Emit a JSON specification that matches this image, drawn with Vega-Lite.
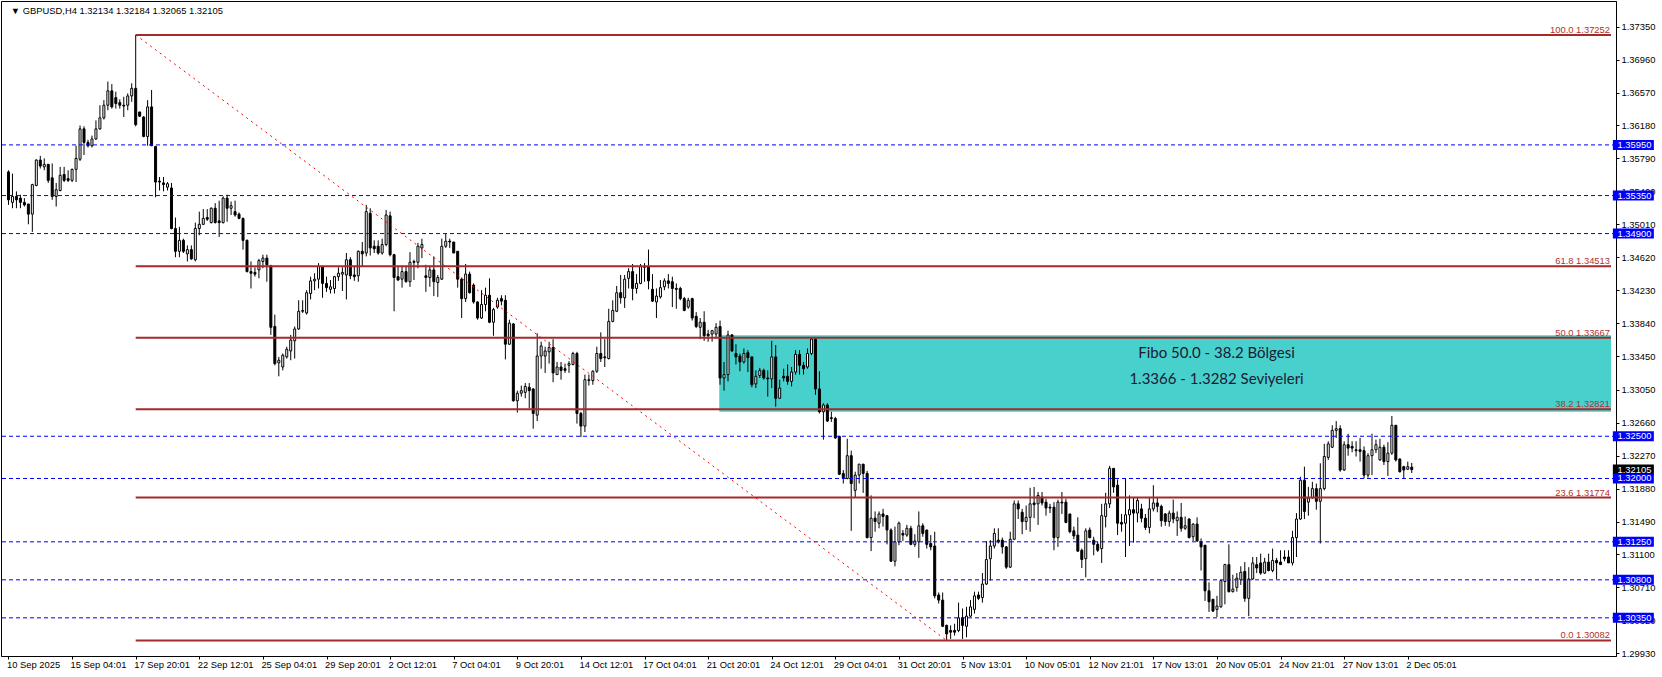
{
"$schema": "https://vega.github.io/schema/vega-lite/v6.json",
"width": 1615, "height": 655,
"autosize": "none",
"padding": {"left": 1, "top": 1, "right": 46, "bottom": 21},
"background": "#ffffff",
"config": {"view": {"stroke": "#000000", "strokeWidth": 1}, "axis": {"labelOverlap": false, "labelFlush": false, "labelBound": false, "grid": false, "title": null}},
"datasets": {
"candles": [
{"i":0,"o":1.3563,"h":1.3565,"l":1.3524,"c":1.3530},{"i":1,"o":1.3527,"h":1.3561,"l":1.3520,"c":1.3534},{"i":2,"o":1.3534,"h":1.3540,"l":1.3520,"c":1.3530},{"i":3,"o":1.3532,"h":1.3536,"l":1.3520,"c":1.3527},{"i":4,"o":1.3527,"h":1.3532,"l":1.3522,"c":1.3524},{"i":5,"o":1.3525,"h":1.3525,"l":1.3501,"c":1.3513},{"i":6,"o":1.3513,"h":1.3549,"l":1.3492,"c":1.3548},{"i":7,"o":1.3547,"h":1.3578,"l":1.3546,"c":1.3577},{"i":8,"o":1.3577,"h":1.3582,"l":1.3567,"c":1.3570},{"i":9,"o":1.3569,"h":1.3579,"l":1.3565,"c":1.3572},
{"i":10,"o":1.3572,"h":1.3572,"l":1.3550,"c":1.3553},{"i":11,"o":1.3556,"h":1.3573,"l":1.3530,"c":1.3534},{"i":12,"o":1.3534,"h":1.3550,"l":1.3522,"c":1.3542},{"i":13,"o":1.3541,"h":1.3569,"l":1.3540,"c":1.3559},{"i":14,"o":1.3560,"h":1.3569,"l":1.3551,"c":1.3553},{"i":15,"o":1.3555,"h":1.3565,"l":1.3551,"c":1.3553},{"i":16,"o":1.3553,"h":1.3567,"l":1.3551,"c":1.3566},{"i":17,"o":1.3566,"h":1.3594,"l":1.3551,"c":1.3579},{"i":18,"o":1.3578,"h":1.3618,"l":1.3576,"c":1.3614},{"i":19,"o":1.3614,"h":1.3617,"l":1.3583,"c":1.3598},
{"i":20,"o":1.3598,"h":1.3601,"l":1.3592,"c":1.3594},{"i":21,"o":1.3594,"h":1.3606,"l":1.3592,"c":1.3602},{"i":22,"o":1.3602,"h":1.3624,"l":1.3601,"c":1.3614},{"i":23,"o":1.3614,"h":1.3642,"l":1.3613,"c":1.3627},{"i":24,"o":1.3627,"h":1.3648,"l":1.3625,"c":1.3642},{"i":25,"o":1.3642,"h":1.3670,"l":1.3636,"c":1.3659},{"i":26,"o":1.3659,"h":1.3667,"l":1.3638,"c":1.3640},{"i":27,"o":1.3651,"h":1.3658,"l":1.3638,"c":1.3644},{"i":28,"o":1.3645,"h":1.3649,"l":1.3638,"c":1.3642},{"i":29,"o":1.3642,"h":1.3652,"l":1.3628,"c":1.3641},
{"i":30,"o":1.3642,"h":1.3656,"l":1.3636,"c":1.3653},{"i":31,"o":1.3653,"h":1.3668,"l":1.3646,"c":1.3662},{"i":32,"o":1.3662,"h":1.37252,"l":1.3617,"c":1.3619},{"i":33,"o":1.3634,"h":1.3634,"l":1.3628,"c":1.3629},{"i":34,"o":1.3628,"h":1.3629,"l":1.3604,"c":1.3605},{"i":35,"o":1.3605,"h":1.3648,"l":1.3594,"c":1.3640},{"i":36,"o":1.3640,"h":1.3660,"l":1.3594,"c":1.3594},{"i":37,"o":1.3593,"h":1.3594,"l":1.3533,"c":1.3551},{"i":38,"o":1.3552,"h":1.3557,"l":1.3541,"c":1.3551},{"i":39,"o":1.3550,"h":1.3557,"l":1.3540,"c":1.3548},
{"i":40,"o":1.3545,"h":1.3551,"l":1.3541,"c":1.3549},{"i":41,"o":1.3544,"h":1.3550,"l":1.3495,"c":1.3496},{"i":42,"o":1.3496,"h":1.3509,"l":1.3462,"c":1.3469},{"i":43,"o":1.3469,"h":1.3498,"l":1.3462,"c":1.3482},{"i":44,"o":1.3482,"h":1.3484,"l":1.3467,"c":1.3469},{"i":45,"o":1.3466,"h":1.3476,"l":1.3457,"c":1.3471},{"i":46,"o":1.3471,"h":1.3476,"l":1.3459,"c":1.3460},{"i":47,"o":1.3459,"h":1.3503,"l":1.3457,"c":1.3496},{"i":48,"o":1.3496,"h":1.3516,"l":1.3488,"c":1.3501},{"i":49,"o":1.3501,"h":1.3519,"l":1.3500,"c":1.3508},
{"i":50,"o":1.3509,"h":1.3519,"l":1.3505,"c":1.3507},{"i":51,"o":1.3503,"h":1.3521,"l":1.3502,"c":1.3520},{"i":52,"o":1.3520,"h":1.3526,"l":1.3502,"c":1.3503},{"i":53,"o":1.3505,"h":1.3529,"l":1.3486,"c":1.3503},{"i":54,"o":1.3503,"h":1.3534,"l":1.3502,"c":1.3532},{"i":55,"o":1.3532,"h":1.3536,"l":1.3504,"c":1.3520},{"i":56,"o":1.3520,"h":1.3528,"l":1.3512,"c":1.3523},{"i":57,"o":1.3516,"h":1.3529,"l":1.3510,"c":1.3512},{"i":58,"o":1.3513,"h":1.3515,"l":1.3507,"c":1.3508},{"i":59,"o":1.3508,"h":1.3509,"l":1.3471,"c":1.3482},
{"i":60,"o":1.3482,"h":1.3483,"l":1.3444,"c":1.3445},{"i":61,"o":1.3445,"h":1.3457,"l":1.3425,"c":1.3443},{"i":62,"o":1.3444,"h":1.3450,"l":1.3439,"c":1.3442},{"i":63,"o":1.3447,"h":1.3460,"l":1.3437,"c":1.3458},{"i":64,"o":1.3457,"h":1.3465,"l":1.3449,"c":1.3461},{"i":65,"o":1.3461,"h":1.3465,"l":1.3433,"c":1.3453},{"i":66,"o":1.3452,"h":1.3453,"l":1.3370,"c":1.3379},{"i":67,"o":1.3380,"h":1.3394,"l":1.3334,"c":1.3336},{"i":68,"o":1.3337,"h":1.3344,"l":1.3321,"c":1.3340},{"i":69,"o":1.3332,"h":1.3348,"l":1.3328,"c":1.3346},
{"i":70,"o":1.3344,"h":1.3356,"l":1.3342,"c":1.3353},{"i":71,"o":1.3351,"h":1.3370,"l":1.3340,"c":1.3364},{"i":72,"o":1.3363,"h":1.3380,"l":1.3342,"c":1.3377},{"i":73,"o":1.3377,"h":1.3411,"l":1.3376,"c":1.3398},{"i":74,"o":1.3398,"h":1.3411,"l":1.3396,"c":1.3399},{"i":75,"o":1.3396,"h":1.3423,"l":1.3394,"c":1.3420},{"i":76,"o":1.3419,"h":1.3439,"l":1.3412,"c":1.3434},{"i":77,"o":1.3434,"h":1.3443,"l":1.3423,"c":1.3436},{"i":78,"o":1.3436,"h":1.3455,"l":1.3425,"c":1.3451},{"i":79,"o":1.3451,"h":1.3452,"l":1.3414,"c":1.3431},
{"i":80,"o":1.3431,"h":1.3439,"l":1.3421,"c":1.3426},{"i":81,"o":1.3424,"h":1.3435,"l":1.3419,"c":1.3427},{"i":82,"o":1.3425,"h":1.3440,"l":1.3419,"c":1.3439},{"i":83,"o":1.3439,"h":1.3450,"l":1.3434,"c":1.3443},{"i":84,"o":1.3442,"h":1.3450,"l":1.3422,"c":1.3444},{"i":85,"o":1.3441,"h":1.3467,"l":1.3412,"c":1.3459},{"i":86,"o":1.3459,"h":1.3462,"l":1.3436,"c":1.3440},{"i":87,"o":1.3441,"h":1.3451,"l":1.3434,"c":1.3439},{"i":88,"o":1.3440,"h":1.3470,"l":1.3433,"c":1.3469},{"i":89,"o":1.3469,"h":1.3480,"l":1.3451,"c":1.3466},
{"i":90,"o":1.3467,"h":1.3524,"l":1.3463,"c":1.3516},{"i":91,"o":1.3514,"h":1.3520,"l":1.3464,"c":1.3473},{"i":92,"o":1.3475,"h":1.3482,"l":1.3467,"c":1.3472},{"i":93,"o":1.3475,"h":1.3482,"l":1.3465,"c":1.3467},{"i":94,"o":1.3467,"h":1.3484,"l":1.3465,"c":1.3477},{"i":95,"o":1.3477,"h":1.3518,"l":1.3475,"c":1.3512},{"i":96,"o":1.3511,"h":1.3516,"l":1.3463,"c":1.3465},{"i":97,"o":1.3465,"h":1.3466,"l":1.3398,"c":1.3438},{"i":98,"o":1.3439,"h":1.3451,"l":1.3434,"c":1.3435},{"i":99,"o":1.3436,"h":1.3451,"l":1.3426,"c":1.3445},
{"i":100,"o":1.3445,"h":1.3451,"l":1.3432,"c":1.3433},{"i":101,"o":1.3433,"h":1.3468,"l":1.3427,"c":1.3456},{"i":102,"o":1.3457,"h":1.3459,"l":1.3435,"c":1.3456},{"i":103,"o":1.3456,"h":1.3479,"l":1.3449,"c":1.3475},{"i":104,"o":1.3473,"h":1.3484,"l":1.3461,"c":1.3477},{"i":105,"o":1.3440,"h":1.3453,"l":1.3421,"c":1.3438},{"i":106,"o":1.3438,"h":1.3452,"l":1.3427,"c":1.3447},{"i":107,"o":1.3447,"h":1.3463,"l":1.3416,"c":1.3433},{"i":108,"o":1.3432,"h":1.3441,"l":1.3415,"c":1.3438},{"i":109,"o":1.3436,"h":1.3484,"l":1.3435,"c":1.3475},
{"i":110,"o":1.3475,"h":1.3490,"l":1.3473,"c":1.3481},{"i":111,"o":1.3481,"h":1.3484,"l":1.3473,"c":1.3480},{"i":112,"o":1.3480,"h":1.3480,"l":1.3467,"c":1.3467},{"i":113,"o":1.3469,"h":1.3469,"l":1.3426,"c":1.3436},{"i":114,"o":1.3436,"h":1.3438,"l":1.3390,"c":1.3413},{"i":115,"o":1.3413,"h":1.3454,"l":1.3409,"c":1.3442},{"i":116,"o":1.3442,"h":1.3445,"l":1.3419,"c":1.3420},{"i":117,"o":1.3429,"h":1.3431,"l":1.3407,"c":1.3409},{"i":118,"o":1.3409,"h":1.3410,"l":1.3388,"c":1.3390},{"i":119,"o":1.3390,"h":1.3423,"l":1.3389,"c":1.3406},
{"i":120,"o":1.3406,"h":1.3426,"l":1.3398,"c":1.3417},{"i":121,"o":1.3417,"h":1.3437,"l":1.3384,"c":1.3385},{"i":122,"o":1.3385,"h":1.3402,"l":1.3369,"c":1.3400},{"i":123,"o":1.3403,"h":1.3414,"l":1.3401,"c":1.3411},{"i":124,"o":1.3413,"h":1.3417,"l":1.3405,"c":1.3410},{"i":125,"o":1.3411,"h":1.3417,"l":1.3341,"c":1.3359},{"i":126,"o":1.3359,"h":1.3388,"l":1.3358,"c":1.3384},{"i":127,"o":1.3383,"h":1.3384,"l":1.3291,"c":1.3292},{"i":128,"o":1.3292,"h":1.3304,"l":1.3278,"c":1.3301},{"i":129,"o":1.3301,"h":1.3310,"l":1.3297,"c":1.3304},
{"i":130,"o":1.3302,"h":1.3313,"l":1.3295,"c":1.3309},{"i":131,"o":1.3308,"h":1.3313,"l":1.3283,"c":1.3304},{"i":132,"o":1.3306,"h":1.3307,"l":1.3259,"c":1.3277},{"i":133,"o":1.3275,"h":1.3372,"l":1.3268,"c":1.3345},{"i":134,"o":1.3345,"h":1.3362,"l":1.3330,"c":1.3357},{"i":135,"o":1.3345,"h":1.3356,"l":1.3325,"c":1.3351},{"i":136,"o":1.3350,"h":1.3362,"l":1.3336,"c":1.3355},{"i":137,"o":1.3355,"h":1.3365,"l":1.3314,"c":1.3325},{"i":138,"o":1.3323,"h":1.3338,"l":1.3323,"c":1.3332},{"i":139,"o":1.3332,"h":1.3338,"l":1.3317,"c":1.3328},
{"i":140,"o":1.3330,"h":1.3336,"l":1.3325,"c":1.3328},{"i":141,"o":1.3334,"h":1.3339,"l":1.3325,"c":1.3336},{"i":142,"o":1.3335,"h":1.3350,"l":1.3334,"c":1.3348},{"i":143,"o":1.3348,"h":1.3350,"l":1.3265,"c":1.3277},{"i":144,"o":1.3277,"h":1.3279,"l":1.3249,"c":1.3262},{"i":145,"o":1.3262,"h":1.3323,"l":1.3255,"c":1.3317},{"i":146,"o":1.3316,"h":1.3323,"l":1.3310,"c":1.3317},{"i":147,"o":1.3316,"h":1.3328,"l":1.3311,"c":1.3327},{"i":148,"o":1.3327,"h":1.3356,"l":1.3325,"c":1.3348},{"i":149,"o":1.3348,"h":1.3373,"l":1.3338,"c":1.3342},
{"i":150,"o":1.3344,"h":1.3365,"l":1.3332,"c":1.3343},{"i":151,"o":1.3342,"h":1.3401,"l":1.3341,"c":1.3386},{"i":152,"o":1.3386,"h":1.3411,"l":1.3385,"c":1.3399},{"i":153,"o":1.3398,"h":1.3428,"l":1.3397,"c":1.3420},{"i":154,"o":1.3420,"h":1.3441,"l":1.3407,"c":1.3414},{"i":155,"o":1.3414,"h":1.3441,"l":1.3402,"c":1.3436},{"i":156,"o":1.3437,"h":1.3449,"l":1.3425,"c":1.3445},{"i":157,"o":1.3445,"h":1.3454,"l":1.3411,"c":1.3425},{"i":158,"o":1.3425,"h":1.3442,"l":1.3419,"c":1.3431},{"i":159,"o":1.3431,"h":1.3454,"l":1.3430,"c":1.3451},
{"i":160,"o":1.3450,"h":1.3455,"l":1.3433,"c":1.3451},{"i":161,"o":1.3451,"h":1.3471,"l":1.3424,"c":1.3434},{"i":162,"o":1.3424,"h":1.3442,"l":1.3409,"c":1.3410},{"i":163,"o":1.3409,"h":1.3425,"l":1.3390,"c":1.3416},{"i":164,"o":1.3415,"h":1.3435,"l":1.3413,"c":1.3426},{"i":165,"o":1.3427,"h":1.3437,"l":1.3423,"c":1.3434},{"i":166,"o":1.3434,"h":1.3442,"l":1.3425,"c":1.3431},{"i":167,"o":1.3433,"h":1.3439,"l":1.3403,"c":1.3425},{"i":168,"o":1.3425,"h":1.3431,"l":1.3401,"c":1.3424},{"i":169,"o":1.3425,"h":1.3427,"l":1.3411,"c":1.3413},
{"i":170,"o":1.3413,"h":1.3415,"l":1.3398,"c":1.3399},{"i":171,"o":1.3403,"h":1.3414,"l":1.3401,"c":1.3411},{"i":172,"o":1.3413,"h":1.3414,"l":1.3387,"c":1.3390},{"i":173,"o":1.3392,"h":1.3397,"l":1.3378,"c":1.3380},{"i":174,"o":1.3379,"h":1.3390,"l":1.3365,"c":1.3385},{"i":175,"o":1.3385,"h":1.3398,"l":1.3363,"c":1.3369},{"i":176,"o":1.3371,"h":1.3376,"l":1.3362,"c":1.3369},{"i":177,"o":1.3371,"h":1.3376,"l":1.3362,"c":1.3375},{"i":178,"o":1.3371,"h":1.3384,"l":1.3366,"c":1.3379},{"i":179,"o":1.3380,"h":1.3387,"l":1.3311,"c":1.3319},
{"i":180,"o":1.3319,"h":1.3338,"l":1.3304,"c":1.3323},{"i":181,"o":1.3323,"h":1.3375,"l":1.3315,"c":1.3370},{"i":182,"o":1.3370,"h":1.3371,"l":1.3350,"c":1.3351},{"i":183,"o":1.3348,"h":1.3359,"l":1.3335,"c":1.3344},{"i":184,"o":1.3345,"h":1.3348,"l":1.3327,"c":1.3338},{"i":185,"o":1.3338,"h":1.3354,"l":1.3336,"c":1.3348},{"i":186,"o":1.3349,"h":1.3352,"l":1.3326,"c":1.3343},{"i":187,"o":1.3344,"h":1.3344,"l":1.3308,"c":1.3311},{"i":188,"o":1.3312,"h":1.3328,"l":1.3307,"c":1.3321},{"i":189,"o":1.3322,"h":1.3331,"l":1.3319,"c":1.3328},
{"i":190,"o":1.3328,"h":1.3330,"l":1.3317,"c":1.3319},{"i":191,"o":1.3319,"h":1.3328,"l":1.3297,"c":1.3318},{"i":192,"o":1.3318,"h":1.3363,"l":1.3307,"c":1.3344},{"i":193,"o":1.3344,"h":1.3358,"l":1.3285,"c":1.3295},{"i":194,"o":1.3295,"h":1.3317,"l":1.3294,"c":1.3307},{"i":195,"o":1.3321,"h":1.3330,"l":1.3315,"c":1.3319},{"i":196,"o":1.3321,"h":1.3335,"l":1.3311,"c":1.3315},{"i":197,"o":1.3315,"h":1.3332,"l":1.3309,"c":1.3326},{"i":198,"o":1.3326,"h":1.3352,"l":1.3323,"c":1.3347},{"i":199,"o":1.3347,"h":1.3352,"l":1.3323,"c":1.3334},
{"i":200,"o":1.3334,"h":1.3338,"l":1.3323,"c":1.3330},{"i":201,"o":1.3332,"h":1.3354,"l":1.3330,"c":1.3348},{"i":202,"o":1.3348,"h":1.3367,"l":1.3346,"c":1.3365},{"i":203,"o":1.3365,"h":1.3367,"l":1.3299,"c":1.3306},{"i":204,"o":1.3306,"h":1.3327,"l":1.3277,"c":1.3279},{"i":205,"o":1.3279,"h":1.3289,"l":1.3246,"c":1.3287},{"i":206,"o":1.3287,"h":1.3289,"l":1.3267,"c":1.3268},{"i":207,"o":1.3272,"h":1.3279,"l":1.3267,"c":1.3271},{"i":208,"o":1.3271,"h":1.3273,"l":1.3247,"c":1.3248},{"i":209,"o":1.3250,"h":1.3250,"l":1.3204,"c":1.3205},
{"i":210,"o":1.3206,"h":1.3210,"l":1.3194,"c":1.3200},{"i":211,"o":1.3200,"h":1.3247,"l":1.3199,"c":1.3227},{"i":212,"o":1.3227,"h":1.3233,"l":1.3138,"c":1.3194},{"i":213,"o":1.3186,"h":1.3208,"l":1.3178,"c":1.3204},{"i":214,"o":1.3204,"h":1.3217,"l":1.3194,"c":1.3217},{"i":215,"o":1.3217,"h":1.3217,"l":1.3183,"c":1.3206},{"i":216,"o":1.3206,"h":1.3209,"l":1.3129,"c":1.3130},{"i":217,"o":1.3130,"h":1.3180,"l":1.3114,"c":1.3153},{"i":218,"o":1.3153,"h":1.3161,"l":1.3137,"c":1.3149},{"i":219,"o":1.3147,"h":1.3161,"l":1.3141,"c":1.3158},
{"i":220,"o":1.3158,"h":1.3164,"l":1.3143,"c":1.3155},{"i":221,"o":1.3156,"h":1.3156,"l":1.3122,"c":1.3139},{"i":222,"o":1.3139,"h":1.3141,"l":1.3102,"c":1.3102},{"i":223,"o":1.3102,"h":1.3143,"l":1.3096,"c":1.3125},{"i":224,"o":1.3125,"h":1.3149,"l":1.3121,"c":1.3147},{"i":225,"o":1.3135,"h":1.3139,"l":1.3126,"c":1.3133},{"i":226,"o":1.3133,"h":1.3145,"l":1.3131,"c":1.3141},{"i":227,"o":1.3141,"h":1.3144,"l":1.3121,"c":1.3122},{"i":228,"o":1.3122,"h":1.3134,"l":1.3119,"c":1.3126},{"i":229,"o":1.3125,"h":1.3161,"l":1.3106,"c":1.3144},
{"i":230,"o":1.3144,"h":1.3147,"l":1.3131,"c":1.3135},{"i":231,"o":1.3139,"h":1.3139,"l":1.3117,"c":1.3122},{"i":232,"o":1.3123,"h":1.3133,"l":1.3115,"c":1.3119},{"i":233,"o":1.3120,"h":1.3137,"l":1.3058,"c":1.3061},{"i":234,"o":1.3062,"h":1.3065,"l":1.3052,"c":1.3056},{"i":235,"o":1.3056,"h":1.3065,"l":1.3024,"c":1.3025},{"i":236,"o":1.3026,"h":1.3027,"l":1.30082,"c":1.3016},{"i":237,"o":1.3020,"h":1.3026,"l":1.3010,"c":1.3018},{"i":238,"o":1.3020,"h":1.3028,"l":1.3014,"c":1.3018},{"i":239,"o":1.3020,"h":1.3053,"l":1.3018,"c":1.3035},
{"i":240,"o":1.3035,"h":1.3046,"l":1.3010,"c":1.3026},{"i":241,"o":1.3025,"h":1.3048,"l":1.3012,"c":1.3037},{"i":242,"o":1.3037,"h":1.3056,"l":1.3036,"c":1.3048},{"i":243,"o":1.3045,"h":1.3066,"l":1.3040,"c":1.3061},{"i":244,"o":1.3062,"h":1.3066,"l":1.3056,"c":1.3058},{"i":245,"o":1.3059,"h":1.3088,"l":1.3053,"c":1.3075},{"i":246,"o":1.3075,"h":1.3126,"l":1.3074,"c":1.3104},{"i":247,"o":1.3105,"h":1.3127,"l":1.3079,"c":1.3120},{"i":248,"o":1.3120,"h":1.3141,"l":1.3117,"c":1.3135},{"i":249,"o":1.3127,"h":1.3141,"l":1.3123,"c":1.3125},
{"i":250,"o":1.3127,"h":1.3130,"l":1.3111,"c":1.3119},{"i":251,"o":1.3119,"h":1.3120,"l":1.3093,"c":1.3095},{"i":252,"o":1.3095,"h":1.3137,"l":1.3094,"c":1.3128},{"i":253,"o":1.3128,"h":1.3174,"l":1.3127,"c":1.3170},{"i":254,"o":1.3170,"h":1.3174,"l":1.3152,"c":1.3164},{"i":255,"o":1.3160,"h":1.3164,"l":1.3134,"c":1.3149},{"i":256,"o":1.3149,"h":1.3168,"l":1.3139,"c":1.3154},{"i":257,"o":1.3154,"h":1.3189,"l":1.3137,"c":1.3170},{"i":258,"o":1.3171,"h":1.3190,"l":1.3153,"c":1.3169},{"i":259,"o":1.3170,"h":1.3184,"l":1.3145,"c":1.3180},
{"i":260,"o":1.3178,"h":1.3184,"l":1.3168,"c":1.3171},{"i":261,"o":1.3172,"h":1.3176,"l":1.3156,"c":1.3165},{"i":262,"o":1.3166,"h":1.3170,"l":1.3159,"c":1.3165},{"i":263,"o":1.3166,"h":1.3172,"l":1.3115,"c":1.3130},{"i":264,"o":1.3130,"h":1.3175,"l":1.3119,"c":1.3172},{"i":265,"o":1.3172,"h":1.3184,"l":1.3158,"c":1.3171},{"i":266,"o":1.3172,"h":1.3176,"l":1.3147,"c":1.3148},{"i":267,"o":1.3158,"h":1.3158,"l":1.3135,"c":1.3137},{"i":268,"o":1.3138,"h":1.3143,"l":1.3128,"c":1.3132},{"i":269,"o":1.3133,"h":1.3154,"l":1.3113,"c":1.3114},
{"i":270,"o":1.3115,"h":1.3117,"l":1.3094,"c":1.3104},{"i":271,"o":1.3105,"h":1.3141,"l":1.3083,"c":1.3138},{"i":272,"o":1.3139,"h":1.3142,"l":1.3129,"c":1.3130},{"i":273,"o":1.3127,"h":1.3131,"l":1.3109,"c":1.3122},{"i":274,"o":1.3122,"h":1.3125,"l":1.3113,"c":1.3115},{"i":275,"o":1.3117,"h":1.3170,"l":1.3100,"c":1.3156},{"i":276,"o":1.3155,"h":1.3183,"l":1.3142,"c":1.3170},{"i":277,"o":1.3170,"h":1.3215,"l":1.3165,"c":1.3212},{"i":278,"o":1.3212,"h":1.3212,"l":1.3183,"c":1.3190},{"i":279,"o":1.3192,"h":1.3199,"l":1.3133,"c":1.3147},
{"i":280,"o":1.3148,"h":1.3158,"l":1.3137,"c":1.3146},{"i":281,"o":1.3147,"h":1.3200,"l":1.3107,"c":1.3157},{"i":282,"o":1.3157,"h":1.3180,"l":1.3120,"c":1.3163},{"i":283,"o":1.3163,"h":1.3178,"l":1.3124,"c":1.3159},{"i":284,"o":1.3159,"h":1.3177,"l":1.3148,"c":1.3174},{"i":285,"o":1.3164,"h":1.3170,"l":1.3148,"c":1.3153},{"i":286,"o":1.3153,"h":1.3158,"l":1.3139,"c":1.3142},{"i":287,"o":1.3142,"h":1.3177,"l":1.3135,"c":1.3164},{"i":288,"o":1.3164,"h":1.3192,"l":1.3161,"c":1.3171},{"i":289,"o":1.3171,"h":1.3177,"l":1.3160,"c":1.3167},
{"i":290,"o":1.3167,"h":1.3169,"l":1.3143,"c":1.3150},{"i":291,"o":1.3158,"h":1.3159,"l":1.3144,"c":1.3149},{"i":292,"o":1.3149,"h":1.3162,"l":1.3143,"c":1.3159},{"i":293,"o":1.3159,"h":1.3175,"l":1.3147,"c":1.3152},{"i":294,"o":1.3150,"h":1.3161,"l":1.3132,"c":1.3154},{"i":295,"o":1.3154,"h":1.3171,"l":1.3137,"c":1.3141},{"i":296,"o":1.3141,"h":1.3155,"l":1.3139,"c":1.3144},{"i":297,"o":1.3152,"h":1.3153,"l":1.3129,"c":1.3130},{"i":298,"o":1.3131,"h":1.3147,"l":1.3126,"c":1.3146},{"i":299,"o":1.3146,"h":1.3154,"l":1.3125,"c":1.3126},
{"i":300,"o":1.3125,"h":1.3129,"l":1.3091,"c":1.3119},{"i":301,"o":1.3121,"h":1.3121,"l":1.3055,"c":1.3067},{"i":302,"o":1.3067,"h":1.3077,"l":1.3042,"c":1.3054},{"i":303,"o":1.3057,"h":1.3057,"l":1.3042,"c":1.3043},{"i":304,"o":1.3045,"h":1.3061,"l":1.3036,"c":1.3049},{"i":305,"o":1.3048,"h":1.3080,"l":1.3047,"c":1.3079},{"i":306,"o":1.3078,"h":1.3099,"l":1.3051,"c":1.3098},{"i":307,"o":1.3098,"h":1.3122,"l":1.3065,"c":1.3066},{"i":308,"o":1.3066,"h":1.3086,"l":1.3065,"c":1.3069},{"i":309,"o":1.3071,"h":1.3088,"l":1.3066,"c":1.3082},
{"i":310,"o":1.3080,"h":1.3096,"l":1.3074,"c":1.3089},{"i":311,"o":1.3090,"h":1.3101,"l":1.3054,"c":1.3058},{"i":312,"o":1.3058,"h":1.3095,"l":1.3037,"c":1.3081},{"i":313,"o":1.3081,"h":1.3107,"l":1.3080,"c":1.3100},{"i":314,"o":1.3098,"h":1.3107,"l":1.3088,"c":1.3094},{"i":315,"o":1.3100,"h":1.3111,"l":1.3086,"c":1.3088},{"i":316,"o":1.3088,"h":1.3106,"l":1.3087,"c":1.3101},{"i":317,"o":1.3101,"h":1.3111,"l":1.3090,"c":1.3091},{"i":318,"o":1.3091,"h":1.3117,"l":1.3089,"c":1.3103},{"i":319,"o":1.3103,"h":1.3106,"l":1.3081,"c":1.3100},
{"i":320,"o":1.3101,"h":1.3115,"l":1.3098,"c":1.3098},{"i":321,"o":1.3107,"h":1.3115,"l":1.3102,"c":1.3105},{"i":322,"o":1.3107,"h":1.3115,"l":1.3100,"c":1.3100},{"i":323,"o":1.3100,"h":1.3138,"l":1.3097,"c":1.3130},{"i":324,"o":1.3130,"h":1.3159,"l":1.3107,"c":1.3152},{"i":325,"o":1.3152,"h":1.3202,"l":1.3151,"c":1.3198},{"i":326,"o":1.3198,"h":1.3214,"l":1.3152,"c":1.3161},{"i":327,"o":1.3172,"h":1.3190,"l":1.3156,"c":1.3177},{"i":328,"o":1.3177,"h":1.3196,"l":1.3176,"c":1.3188},{"i":329,"o":1.3188,"h":1.3194,"l":1.3163,"c":1.3173},
{"i":330,"o":1.3173,"h":1.3218,"l":1.3123,"c":1.3188},{"i":331,"o":1.3188,"h":1.3241,"l":1.3186,"c":1.3226},{"i":332,"o":1.3225,"h":1.3244,"l":1.3222,"c":1.3241},{"i":333,"o":1.3237,"h":1.3263,"l":1.3236,"c":1.3257},{"i":334,"o":1.3257,"h":1.3268,"l":1.3248,"c":1.3259},{"i":335,"o":1.3259,"h":1.3263,"l":1.3208,"c":1.3210},{"i":336,"o":1.3210,"h":1.3244,"l":1.3209,"c":1.3240},{"i":337,"o":1.3240,"h":1.3253,"l":1.3227,"c":1.3236},{"i":338,"o":1.3238,"h":1.3244,"l":1.3231,"c":1.3236},{"i":339,"o":1.3234,"h":1.3244,"l":1.3226,"c":1.3233},
{"i":340,"o":1.3234,"h":1.3248,"l":1.3220,"c":1.3232},{"i":341,"o":1.3233,"h":1.3238,"l":1.3200,"c":1.3204},{"i":342,"o":1.3204,"h":1.3230,"l":1.3201,"c":1.3227},{"i":343,"o":1.3227,"h":1.3253,"l":1.3204,"c":1.3234},{"i":344,"o":1.3234,"h":1.3246,"l":1.3230,"c":1.3240},{"i":345,"o":1.3222,"h":1.3247,"l":1.3221,"c":1.3237},{"i":346,"o":1.3237,"h":1.3240,"l":1.3216,"c":1.3220},{"i":347,"o":1.3220,"h":1.3243,"l":1.3203,"c":1.3230},{"i":348,"o":1.3230,"h":1.3274,"l":1.3228,"c":1.3263},{"i":349,"o":1.3263,"h":1.3263,"l":1.3220,"c":1.3222},
{"i":350,"o":1.3223,"h":1.3224,"l":1.3207,"c":1.3208},{"i":351,"o":1.3214,"h":1.3215,"l":1.3200,"c":1.3210},{"i":352,"o":1.3211,"h":1.3220,"l":1.3210,"c":1.3214},{"i":353,"o":1.32134,"h":1.32184,"l":1.32065,"c":1.32105}
],
"levels": [{"p":1.3595},{"p":1.3535},{"p":1.349},{"p":1.325},{"p":1.32},{"p":1.3125},{"p":1.308},{"p":1.3035}],
"fibs": [{"label":"100.0 1.37252","p":1.37252},{"label":"61.8 1.34513","p":1.34513},{"label":"50.0 1.33667","p":1.33667},{"label":"38.2 1.32821","p":1.32821},{"label":"23.6 1.31774","p":1.31774},{"label":"0.0 1.30082","p":1.30082}],
"diag": [{"i":32,"p":1.37252},{"i":236,"p":1.30082}],
"zone": [{"t0":178.8,"top":1.33697,"bot":1.32791}],
"notes": [{"t":"Fibo 50.0 - 38.2 Bölgesi","i":303.9,"p":1.33486},{"t":"1.3366 - 1.3282 Seviyeleri","i":303.9,"p":1.33178}],
"current": [{"p":1.32105}]
},
"layer": [
{"data":{"name":"zone"},"mark":{"type":"rect","color":"#48d1cc","opacity":1},
 "encoding":{
  "x":{"field":"t0","type":"quantitative","scale":{"domain":[-0.625,403.125],"nice":false,"zero":false},
   "axis":{"values":[0,16,32,48,64,80,96,112,128,144,160,176,192,208,224,240,256,272,288,304,320,336,352],"tickCount":100,
    "labelExpr":"['10 Sep 2025','15 Sep 04:01','17 Sep 20:01','22 Sep 12:01','25 Sep 04:01','29 Sep 20:01','2 Oct 12:01','7 Oct 04:01','9 Oct 20:01','14 Oct 12:01','17 Oct 04:01','21 Oct 20:01','24 Oct 12:01','29 Oct 04:01','31 Oct 20:01','5 Nov 13:01','10 Nov 05:01','12 Nov 21:01','17 Nov 13:01','20 Nov 05:01','24 Nov 21:01','27 Nov 13:01','2 Dec 05:01'][round(datum.value/16)]",
    "title":null,"grid":false,"orient":"bottom","domainColor":"#000000","tickColor":"#000000","tickSize":3,
    "labelFont":"Liberation Sans","labelFontSize":9.4,"labelColor":"#000000","labelAlign":"left","labelBaseline":"top",
    "labelOffset":-2,"labelPadding":1,"labelOverlap":false,"labelFlush":false,"labelBound":false}},
  "x2":{"datum":403.125},
  "y":{"field":"top","type":"quantitative","scale":{"domain":[1.29898,1.37654],"nice":false,"zero":false},
   "axis":{"values":[1.3735,1.3696,1.3657,1.3618,1.3579,1.354,1.3501,1.3462,1.3423,1.3384,1.3345,1.3305,1.3266,1.3227,1.3188,1.3149,1.311,1.3071,1.3032,1.2993],"tickCount":100,
    "format":".5f","title":null,"grid":false,"orient":"right","domainColor":"#000000","tickColor":"#000000","tickSize":3,
    "labelFont":"Liberation Sans","labelFontSize":9.4,"labelColor":"#000000","labelPadding":2,"labelOverlap":false,"labelFlush":false,"labelBound":false,"labelBaseline":"middle"}},
  "y2":{"field":"bot"}}},
{"data":{"name":"candles"},"mark":{"type":"rule","color":"#000000","strokeWidth":1},
 "encoding":{
  "x":{"field":"i","type":"quantitative","scale":{"domain":[-0.625,403.125],"nice":false,"zero":false},"axis":{"title":null,"labelOverlap":false}},
  "y":{"field":"l","type":"quantitative","scale":{"domain":[1.29898,1.37654],"nice":false,"zero":false},"axis":{"title":null,"labelOverlap":false}},
  "y2":{"field":"h"}}},
{"data":{"name":"candles"},"mark":{"type":"bar","width":2,"stroke":"#000000","strokeWidth":1,"opacity":1},
 "encoding":{
  "x":{"field":"i","type":"quantitative","scale":{"domain":[-0.625,403.125],"nice":false,"zero":false},"axis":{"title":null,"labelOverlap":false}},
  "y":{"field":"o","type":"quantitative","scale":{"domain":[1.29898,1.37654],"nice":false,"zero":false},"axis":{"title":null,"labelOverlap":false}},
  "y2":{"field":"c"},
  "fill":{"condition":{"test":"datum.c >= datum.o","value":"#ffffff"},"value":"#000000"}}},
{"data":{"name":"levels"},"mark":{"type":"rule","color":"#0000ff","strokeWidth":1,"strokeDash":[4,3]},
 "encoding":{
  "y":{"field":"p","type":"quantitative","scale":{"domain":[1.29898,1.37654],"nice":false,"zero":false},"axis":{"title":null,"labelOverlap":false}}}},
{"data":{"name":"fibs"},"mark":{"type":"rule","color":"#a52a2a","strokeWidth":2},
 "encoding":{
  "x":{"datum":32,"type":"quantitative","scale":{"domain":[-0.625,403.125],"nice":false,"zero":false},"axis":{"title":null,"labelOverlap":false}},
  "x2":{"datum":403.125},
  "y":{"field":"p","type":"quantitative","scale":{"domain":[1.29898,1.37654],"nice":false,"zero":false},"axis":{"title":null,"labelOverlap":false}}}},
{"data":{"name":"diag"},"mark":{"type":"line","color":"#ff0000","strokeWidth":1,"strokeDash":[2,4]},
 "encoding":{
  "x":{"field":"i","type":"quantitative","scale":{"domain":[-0.625,403.125],"nice":false,"zero":false},"axis":{"title":null,"labelOverlap":false}},
  "y":{"field":"p","type":"quantitative","scale":{"domain":[1.29898,1.37654],"nice":false,"zero":false},"axis":{"title":null,"labelOverlap":false}}}},
{"data":{"name":"fibs"},"mark":{"type":"text","align":"right","baseline":"alphabetic","dy":-2,"font":"Liberation Sans","fontSize":9.4,"color":"#b03030"},
 "encoding":{
  "x":{"datum":402.875,"type":"quantitative","scale":{"domain":[-0.625,403.125],"nice":false,"zero":false},"axis":{"title":null,"labelOverlap":false}},
  "y":{"field":"p","type":"quantitative","scale":{"domain":[1.29898,1.37654],"nice":false,"zero":false},"axis":{"title":null,"labelOverlap":false}},
  "text":{"field":"label"}}},
{"data":{"name":"notes"},"mark":{"type":"text","align":"center","baseline":"middle","font":"Lato","fontSize":15,"color":"#1a1a33"},
 "encoding":{
  "x":{"field":"i","type":"quantitative","scale":{"domain":[-0.625,403.125],"nice":false,"zero":false},"axis":{"title":null,"labelOverlap":false}},
  "y":{"field":"p","type":"quantitative","scale":{"domain":[1.29898,1.37654],"nice":false,"zero":false},"axis":{"title":null,"labelOverlap":false}},
  "text":{"field":"t"}}},
{"data":{"values":[{"t":"▼ GBPUSD,H4  1.32134 1.32184 1.32065 1.32105"}]},"mark":{"type":"text","align":"left","baseline":"middle","font":"Liberation Sans","fontSize":9.4,"color":"#000000"},
 "encoding":{
  "x":{"datum":0.6,"type":"quantitative","scale":{"domain":[-0.625,403.125],"nice":false,"zero":false},"axis":{"title":null,"labelOverlap":false}},
  "y":{"datum":1.37536,"type":"quantitative","scale":{"domain":[1.29898,1.37654],"nice":false,"zero":false},"axis":{"title":null,"labelOverlap":false}},
  "text":{"field":"t"}}},
{"data":{"name":"current"},"mark":{"type":"tick","orient":"horizontal","size":41,"thickness":10,"color":"#000000","opacity":1},
 "encoding":{
  "x":{"datum":408.75,"type":"quantitative","scale":{"domain":[-0.625,403.125],"nice":false,"zero":false},"axis":{"title":null,"labelOverlap":false}},
  "y":{"field":"p","type":"quantitative","scale":{"domain":[1.29898,1.37654],"nice":false,"zero":false},"axis":{"title":null,"labelOverlap":false}}}},
{"data":{"name":"current"},"mark":{"type":"text","align":"left","baseline":"middle","font":"Liberation Sans","fontSize":9.4,"color":"#ffffff"},
 "encoding":{
  "x":{"datum":404.75,"type":"quantitative","scale":{"domain":[-0.625,403.125],"nice":false,"zero":false},"axis":{"title":null,"labelOverlap":false}},
  "y":{"field":"p","type":"quantitative","scale":{"domain":[1.29898,1.37654],"nice":false,"zero":false},"axis":{"title":null,"labelOverlap":false}},
  "text":{"field":"p","format":".5f"}}},
{"data":{"name":"levels"},"mark":{"type":"tick","orient":"horizontal","size":41,"thickness":10,"color":"#0000ff","opacity":1},
 "encoding":{
  "x":{"datum":408.75,"type":"quantitative","scale":{"domain":[-0.625,403.125],"nice":false,"zero":false},"axis":{"title":null,"labelOverlap":false}},
  "y":{"field":"p","type":"quantitative","scale":{"domain":[1.29898,1.37654],"nice":false,"zero":false},"axis":{"title":null,"labelOverlap":false}}}},
{"data":{"name":"levels"},"mark":{"type":"text","align":"left","baseline":"middle","font":"Liberation Sans","fontSize":9.4,"color":"#ffffff"},
 "encoding":{
  "x":{"datum":404.75,"type":"quantitative","scale":{"domain":[-0.625,403.125],"nice":false,"zero":false},"axis":{"title":null,"labelOverlap":false}},
  "y":{"field":"p","type":"quantitative","scale":{"domain":[1.29898,1.37654],"nice":false,"zero":false},"axis":{"title":null,"labelOverlap":false}},
  "text":{"field":"p","format":".5f"}}}
]
}
